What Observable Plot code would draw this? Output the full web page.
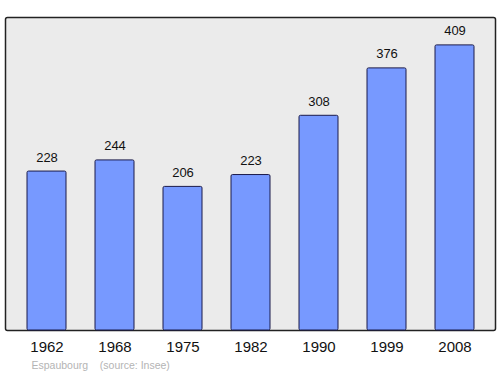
<!DOCTYPE html>
<html>
<head>
<meta charset="utf-8">
<script src="https://cdn.jsdelivr.net/npm/d3@7"></script>
<script src="https://cdn.jsdelivr.net/npm/@observablehq/plot@0.6"></script>
<style>
  html, body { margin: 0; padding: 0; background: #fff; }
</style>
</head>
<body>
<div id="chart"></div>
<script>
const years = ["1962", "1968", "1975", "1982", "1990", "1999", "2008"];
const population = [228, 244, 206, 223, 308, 376, 409];
const caption = "Espaubourg    (source: Insee)";

const data = years.map((y, i) => ({year: y, pop: population[i]}));

const chart = Plot.plot({
  width: 500,
  height: 374,
  marginLeft: 5,
  marginRight: 5,
  marginTop: 17,
  marginBottom: 44,
  style: {fontFamily: "'Liberation Sans', Arial, sans-serif", background: "#fff"},
  x: {domain: years, range: [26, 475], paddingInner: 0.43, paddingOuter: 0, label: null},
  y: {domain: [0, 449], axis: null},
  marks: [
    Plot.frame({fill: "#ebebeb", stroke: "#222", strokeWidth: 1.5, rx: 2}),
    Plot.barY(data, {x: "year", y: "pop", fill: "#7799ff", stroke: "#1a1a4a", strokeWidth: 1, rx: 1.5}),
    Plot.text(data, {x: "year", y: "pop", text: d => String(d.pop), lineAnchor: "bottom", dy: -10, fontSize: 13, fill: "#111"}),
    Plot.axisX({tickSize: 0, tickPadding: 11, fontSize: 15, color: "#111", label: null}),
    Plot.text([caption], {frameAnchor: "bottom-left", dx: 26, dy: 35, textAnchor: "start", lineAnchor: "middle", fontSize: 10.5, fill: "#b4b4b4", text: d => d})
  ]
});
document.getElementById("chart").appendChild(chart);
</script>
</body>
</html>
